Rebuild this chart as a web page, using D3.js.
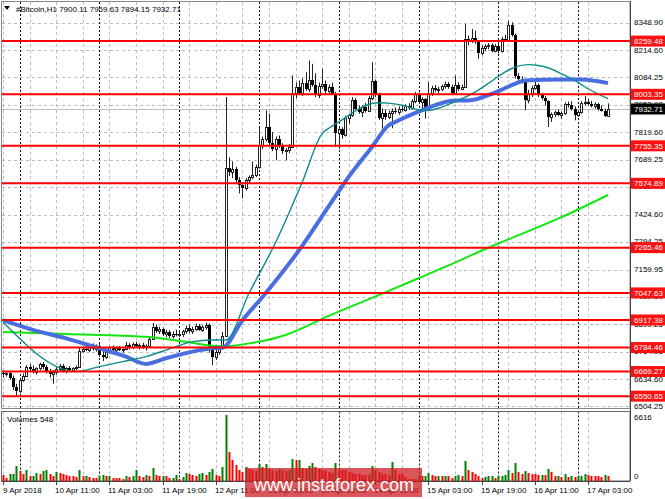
<!DOCTYPE html>
<html><head><meta charset="utf-8">
<script src="https://cdn.jsdelivr.net/npm/d3@7"></script>
<style>html,body{margin:0;padding:0;background:#fff;}svg{display:block;font-family:"Liberation Sans",Arial,sans-serif;}</style>
</head><body><svg id="c" width="665" height="499"></svg>
<script>
// ---- data ----
const opens=[6660,6655,6660,6640,6595,6575,6630,6650,6690,6680,6665,6685,6705,6690,6670,6655,6665,6680,6698,6672,6685,6678,6684,6690,6770,6780,6775,6788,6778,6790,6750,6740,6762,6785,6775,6782,6772,6780,6795,6785,6800,6790,6795,6785,6792,6825,6885,6865,6872,6848,6858,6840,6852,6845,6850,6862,6880,6865,6875,6888,6870,6885,6895,6775,6740,6765,6782,6840,7650,7630,7645,7590,7565,7552,7590,7605,7615,7655,7760,7790,7845,7770,7740,7790,7755,7730,7735,7750,8012,8040,8010,8060,8030,8070,8050,8000,8045,8055,8020,8040,8006,7815,7835,7806,7890,7902,7974,7935,7918,7940,7925,7985,8065,8000,7890,7915,7895,7915,7925,7918,7935,7928,7945,7938,7972,8005,7968,7980,7930,8012,8035,8022,8030,8042,8055,8040,8010,8048,8030,8040,8270,8262,8275,8255,8200,8228,8235,8242,8212,8238,8210,8270,8262,8335,8290,8090,8075,8065,7975,8012,8035,8050,8000,7985,7970,7895,7910,7918,7905,7912,7958,7950,7935,7905,7918,7962,7968,7958,7948,7955,7935,7925,7900.11];
const highs=[6672,6668,6665,6650,6610,6640,6660,6700,6705,6698,6690,6712,6715,6700,6682,6675,6690,6705,6705,6690,6695,6690,6698,6785,6790,6800,6795,6805,6800,6810,6775,6770,6790,6795,6790,6792,6788,6812,6805,6810,6812,6805,6808,6800,6830,6903,6895,6885,6880,6870,6868,6862,6870,6862,6870,6890,6895,6885,6900,6898,6892,6905,6900,6790,6775,6790,6860,7990,7700,7680,7655,7605,7580,7600,7612,7680,7665,7845,7800,7926,7910,7822,7800,7805,7768,7745,7765,8094,8060,8070,8080,8110,8166,8150,8105,8060,8126,8070,8050,8060,8015,7845,7845,7900,7910,7990,7985,7950,7950,7962,7995,8158,8075,8010,7935,7930,7925,7935,7940,7945,7948,7955,7960,7980,8015,8012,7990,7985,8062,8045,8048,8040,8050,8065,8062,8050,8094,8062,8050,8342,8286,8318,8310,8262,8240,8245,8250,8248,8245,8250,8280,8290,8358,8350,8295,8105,8090,8070,8025,8045,8070,8055,8010,7995,7975,7915,7925,7930,7920,7965,7968,7970,7945,7925,7970,7995,7980,7972,7965,7962,7950,7935,7959.63];
const lows=[6640,6645,6630,6580,6548,6565,6620,6645,6670,6660,6655,6675,6680,6660,6640,6610,6655,6670,6665,6660,6670,6670,6676,6688,6760,6768,6762,6770,6765,6740,6720,6730,6755,6768,6760,6768,6760,6772,6775,6778,6785,6775,6778,6770,6785,6820,6855,6850,6840,6835,6830,6828,6838,6835,6835,6852,6855,6850,6865,6865,6860,6870,6760,6700,6725,6750,6775,6835,7610,7600,7580,7526,7502,7540,7575,7595,7605,7645,7740,7775,7755,7730,7686,7745,7715,7686,7720,7745,7985,8000,7995,8020,8015,8040,7990,7985,8030,8005,8000,8000,7750,7742,7790,7800,7860,7895,7930,7910,7894,7915,7918,7975,7990,7880,7838,7880,7885,7840,7910,7905,7920,7920,7930,7930,7960,7960,7935,7886,7925,7995,8015,8010,8020,8030,8030,8000,8005,8020,8025,8035,8240,8250,8245,8174,8190,8210,8220,8205,8205,8200,8205,8255,8255,8280,8080,8060,8055,7926,7960,7990,8025,7990,7975,7950,7846,7870,7895,7900,7885,7905,7940,7925,7878,7895,7910,7950,7950,7940,7935,7925,7920,7895,7894.15];
const closes=[6655,6660,6640,6595,6575,6630,6650,6690,6680,6665,6685,6705,6690,6670,6655,6665,6680,6698,6672,6685,6678,6684,6690,6770,6780,6775,6788,6778,6790,6750,6740,6762,6785,6775,6782,6772,6780,6795,6785,6800,6790,6795,6785,6792,6825,6885,6865,6872,6848,6858,6840,6852,6845,6850,6862,6880,6865,6875,6888,6870,6885,6895,6775,6740,6765,6782,6840,7650,7630,7645,7590,7565,7552,7590,7605,7615,7655,7760,7790,7845,7770,7740,7790,7755,7730,7735,7750,8012,8040,8010,8060,8030,8070,8050,8000,8045,8055,8020,8040,8006,7815,7835,7806,7890,7902,7974,7935,7918,7940,7925,7985,8065,8000,7890,7915,7895,7915,7925,7918,7935,7928,7945,7938,7972,8005,7968,7980,7930,8012,8035,8022,8030,8042,8055,8040,8010,8048,8030,8040,8270,8262,8275,8255,8200,8228,8235,8242,8212,8238,8210,8270,8262,8335,8290,8090,8075,8065,7975,8012,8035,8050,8000,7985,7970,7895,7910,7918,7905,7912,7958,7950,7935,7905,7918,7962,7968,7958,7948,7955,7935,7925,7900,7932.71];
const volumes=[570,335,670,737,1508,972,670,1072,469,536,804,737,972,1072,670,469,905,804,737,570,536,503,402,1072,469,536,402,335,302,469,570,469,536,335,302,268,235,469,402,469,1139,469,436,570,536,1340,570,469,536,469,302,335,570,235,402,804,737,570,469,737,804,570,905,1240,570,536,1407,6616,2915,2077,1575,1139,905,1407,1240,1072,1005,1675,1407,1742,1240,1139,1005,1240,1072,1005,1139,2245,2077,2144,1307,1240,1474,1843,1407,1240,1072,1005,905,804,1843,1139,1106,1072,905,804,737,670,637,570,560,1508,1072,905,737,670,603,1910,1072,737,670,402,235,201,168,570,469,536,804,570,469,536,469,536,469,335,469,570,469,2010,1072,905,670,469,335,402,469,503,335,469,503,570,1072,804,1809,905,737,1005,804,737,670,570,637,570,1240,905,469,536,402,670,402,469,436,469,503,737,570,536,503,469,436,637,548];
const maFastIdx=[0,22,29,36,43,51,57,63,67,74,82,90,96,98,101,104,108,113,116,121,125,128,132,138,142,148,151,154,158,161,164,168,172,176,182];
const maFastVal=[6908,6669,6693,6717,6741,6783,6813,6821,6821,7046,7290,7580,7814,7840,7870,7902,7942,7963,7961,7947,7929,7926,7942,7982,8014,8078,8110,8134,8146,8142,8131,8102,8070,8030,7982];
const maMidIdx=[0,9,19,29,37,43,49,57,63,66,72,79,90,98,104,111,116,118,126,136,140,148,154,157,168,174,182];
const maMidVal=[6917,6870,6829,6781,6741,6706,6733,6765,6781,6784,6915,7046,7274,7465,7606,7750,7854,7870,7926,7974,7974,8012,8054,8070,8075,8074,8057];
const maSlowIdx=[0,19,43,55,64,67,75,85,98,115,125,134,146,152,168,182];
const maSlowVal=[6860,6850,6836,6812,6792,6792,6807,6845,6937,7050,7118,7180,7265,7305,7412,7519];
const priceTicks=[8348.90,8214.60,8084.25,7953.90,7819.60,7689.25,7558.90,7424.60,7294.25,7159.95,7029.60,6899.25,6764.95,6634.60,6504.25];
const levels=[8259.48,8003.35,7755.35,7574.89,7265.46,7047.63,6917.38,6784.46,6669.27,6550.65];
const lastPrice=7932.71;
const dateLabels=["9 Apr 2018","10 Apr 11:00","11 Apr 03:00","11 Apr 19:00","12 Apr 11:00","13 Apr 03:00","13 Apr 19:00","14 Apr 11:00","15 Apr 03:00","15 Apr 19:00","16 Apr 11:00","17 Apr 03:00"];
const dateBars=[0,16,32,48,64,80,96,112,128,144,160,176];
const dayStartBars=[5,29,53,77,101,125,149,173];
const volMax=6616;

// ---- layout ----
const svg=d3.select("#c");
const L=2,R=630,T=2,B=408.5,VT=411.5,VB=481;
const xs=d3.scaleLinear().domain([0,182]).range([3,608]);
const yp=d3.scaleLinear().domain([6504.25,8348.90]).range([405.8,22.5]);
const yv=d3.scaleLinear().domain([0,volMax]).range([VB,415]);
const px=i=>Math.round(xs(i));

svg.append("rect").attr("width",665).attr("height",499).attr("fill","#fff");
const defs=svg.append("defs");
defs.append("clipPath").attr("id","mc").append("rect").attr("x",L).attr("y",T).attr("width",R-L).attr("height",B-T);

// grid horizontal
const g=svg.append("g");
priceTicks.forEach(t=>{
  const y=Math.round(yp(t))+0.5;
  g.append("line").attr("x1",L).attr("x2",R).attr("y1",y).attr("y2",y)
   .attr("stroke","#bdbdbd").attr("stroke-dasharray","3,3");
});
// grid vertical (every 8 bars) in both panels
d3.range(0,183,8).forEach(i=>{
  const x=px(i)+0.5;
  [[T,B],[VT,VB]].forEach(([a,b])=>g.append("line").attr("x1",x).attr("x2",x).attr("y1",a).attr("y2",b)
   .attr("stroke","#bdbdbd").attr("stroke-dasharray","3,3"));
});
// day separators
dayStartBars.forEach(i=>{
  const x=px(i)+0.5;
  [[T,B],[VT,VB]].forEach(([a,b])=>g.append("line").attr("x1",x).attr("x2",x).attr("y1",a).attr("y2",b)
   .attr("stroke","#111").attr("stroke-dasharray","2,2"));
});

const main=svg.append("g").attr("clip-path","url(#mc)");
// current price line
main.append("line").attr("x1",L).attr("x2",R).attr("y1",Math.round(yp(lastPrice))+0.5).attr("y2",Math.round(yp(lastPrice))+0.5)
  .attr("stroke","#c0c0c0");

// candles
const cg=main.append("g");
closes.forEach((c,i)=>{
  const o=opens[i],h=highs[i],l=lows[i],x=px(i);
  cg.append("line").attr("x1",x+0.5).attr("x2",x+0.5).attr("y1",yp(h)).attr("y2",yp(l)).attr("stroke","#222");
  const top=Math.round(yp(Math.max(o,c))),bot=Math.round(yp(Math.min(o,c)));
  if(c>=o){
    cg.append("rect").attr("x",x-0.5).attr("y",top+0.5).attr("width",2).attr("height",Math.max(bot-top,1))
      .attr("fill","#fff").attr("stroke","#222");
  }else{
    cg.append("rect").attr("x",x-1).attr("y",top).attr("width",3).attr("height",Math.max(bot-top,1)).attr("fill","#000");
  }
});

// moving averages
const line=d3.line().x(d=>xs(d[0])).y(d=>yp(d[1])).curve(d3.curveMonotoneX);
main.append("path").attr("d",line(d3.zip(maSlowIdx,maSlowVal))).attr("fill","none").attr("stroke","#11e611").attr("stroke-width",2);
main.append("path").attr("d",line(d3.zip(maMidIdx,maMidVal))).attr("fill","none").attr("stroke","#4a6ee0").attr("stroke-width",4).attr("stroke-linejoin","round");
main.append("path").attr("d",line(d3.zip(maFastIdx,maFastVal))).attr("fill","none").attr("stroke","#0b8c8c").attr("stroke-width",1.4);

// level lines
levels.forEach(v=>{
  main.append("line").attr("x1",L).attr("x2",R).attr("y1",yp(v)).attr("y2",yp(v)).attr("stroke","#ff0000").attr("stroke-width",2);
});

// frames
const fr=svg.append("g").attr("fill","none");
fr.append("rect").attr("x",1.5).attr("y",1.5).attr("width",R-1.5).attr("height",B-1.5).attr("stroke","#888");
fr.append("rect").attr("x",1.5).attr("y",VT).attr("width",R-1.5).attr("height",VB-VT).attr("stroke","#666");
fr.append("line").attr("x1",R+0.5).attr("x2",R+0.5).attr("y1",1).attr("y2",VB).attr("stroke","#444");
fr.append("line").attr("x1",1.5).attr("x2",R).attr("y1",VB+0.5).attr("y2",VB+0.5).attr("stroke","#444");

// price axis labels
const ax=svg.append("g").attr("font-size","8px");
priceTicks.forEach(t=>{
  ax.append("text").attr("x",634).attr("y",yp(t)).attr("dy","0.35em").attr("fill","#000").text(t.toFixed(2));
});
levels.forEach(v=>{
  ax.append("rect").attr("x",631).attr("y",yp(v)-5.5).attr("width",34).attr("height",11).attr("fill","#ff1010");
  ax.append("text").attr("x",634).attr("y",yp(v)).attr("dy","0.35em").attr("fill","#fff").text(v.toFixed(2));
});
ax.append("rect").attr("x",631).attr("y",yp(lastPrice)-5.5).attr("width",34).attr("height",11).attr("fill","#000");
ax.append("text").attr("x",634).attr("y",yp(lastPrice)).attr("dy","0.35em").attr("fill","#fff").text(lastPrice.toFixed(2));

// volumes
const vg=svg.append("g");
volumes.forEach((v,i)=>{
  const up=i>0&&v>volumes[i-1];
  const y=Math.round(yv(v));
  vg.append("rect").attr("x",px(i)-0.5).attr("y",y).attr("width",2).attr("height",Math.max(VB-y,0))
    .attr("fill",up?"#008000":"#ff0000");
});
ax.append("text").attr("x",634).attr("y",417).attr("dy","0.35em").text(String(volMax));
ax.append("text").attr("x",634).attr("y",476).attr("dy","0.35em").text("0");
svg.append("text").attr("x",7).attr("y",421.5).attr("font-size","8px").text("Volumes "+volumes[volumes.length-1]);

// date labels
dateBars.forEach((b,k)=>{
  const x=px(b);
  svg.append("line").attr("x1",x+0.5).attr("x2",x+0.5).attr("y1",VB).attr("y2",VB+4).attr("stroke","#444");
  svg.append("text").attr("x",k===0?3:x-1).attr("y",492.5).attr("font-size","8px").text(dateLabels[k]);
});

// title
svg.append("path").attr("d","M4,6 L10,6 L7,10 Z").attr("fill","#000");
svg.append("text").attr("x",16).attr("y",12).attr("font-size","8px")
  .text("#Bitcoin,H1  "+[opens[182],highs[182],lows[182],closes[182]].map(d=>d.toFixed(2)).join(" "));

// watermark (semi-transparent, over the date labels as in the reference)
svg.append("rect").attr("x",245).attr("y",468).attr("width",177).attr("height",29).attr("fill","rgba(205,30,35,0.75)");
svg.append("text").attr("x",254).attr("y",491).attr("font-size","18px").attr("fill","#fff").text("www.instaforex.com");
</script></body></html>
